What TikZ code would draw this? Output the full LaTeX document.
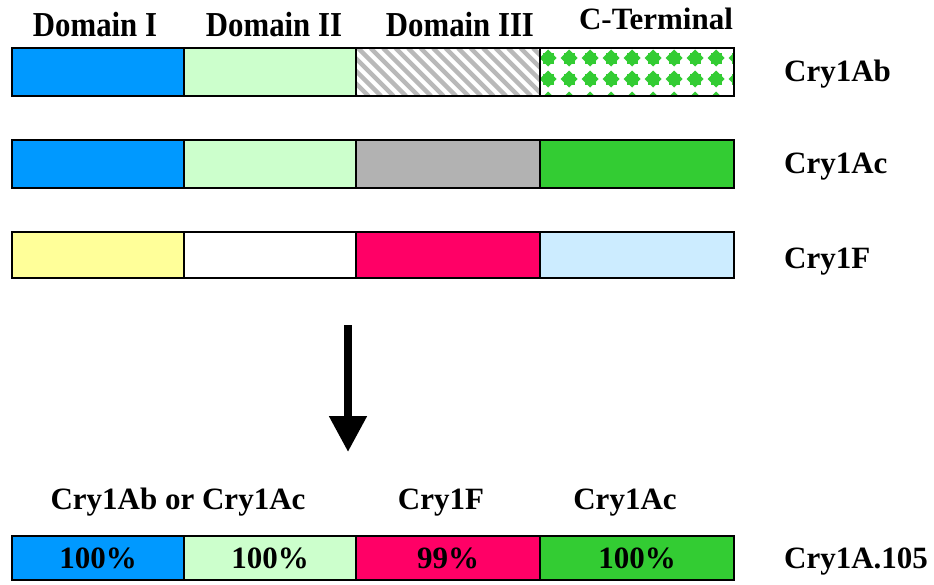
\documentclass[tikz,border=0pt]{standalone}
\usepackage{fontspec}
\setmainfont{Liberation Serif}
\newfontfamily\condfont{Liberation Serif}[FakeStretch=0.88]
\usetikzlibrary{arrows.meta}
\definecolor{cblue}{RGB}{0,153,255}
\definecolor{cltgreen}{RGB}{204,255,204}
\definecolor{cgray}{RGB}{178,178,178}
\definecolor{cgreen}{RGB}{51,204,51}
\definecolor{cyellow}{RGB}{255,255,153}
\definecolor{cmag}{RGB}{255,0,102}
\definecolor{cltblue}{RGB}{204,236,255}
\definecolor{chatch}{RGB}{185,185,185}
\begin{document}
\begin{tikzpicture}[x=1pt,y=-1pt,
  seg/.style={draw=black, line width=1.4pt, inner sep=0pt, outer sep=0pt, anchor=north west, minimum height=48pt},
  segA/.style={seg, minimum width=172pt},
  segB/.style={seg, minimum width=172pt},
  segC/.style={seg, minimum width=184pt},
  segD/.style={seg, minimum width=194pt},
  lbl/.style={font=\bfseries\fontsize{31}{36}\selectfont, inner sep=0pt, anchor=base},
  hlbl/.style={font=\condfont\bfseries\fontsize{35}{40}\selectfont, inner sep=0pt, anchor=base},
  rlbl/.style={lbl, anchor=base west}
]
\useasboundingbox (0,0) rectangle (934,584);
\fill[white] (0,0) rectangle (934,584);

% top labels
\node[hlbl] (hd1) at (95,36) {Domain I};
\node[hlbl] (hd2) at (274,36) {Domain II};
\node[hlbl] (hd3) at (460,36) {Domain III};
\node[lbl] (hd4) at (656,29) {C-Terminal};

% row 1 Cry1Ab
\node[segA, fill=cblue] (r1a) at (12,48) {};
\node[segB, fill=cltgreen] (r1b) at (184,48) {};
\begin{scope}
  \clip (356,48) rectangle (540,96);
  \fill[white] (356,48) rectangle (540,96);
  \foreach \i in {0,...,22} {
    \draw[chatch, line width=4.5pt] (308+\i*12.5,48) -- ++(48,48);
  }
\end{scope}
\node[segC] (r1c) at (356,48) {};
\begin{scope}
  \clip (540,48) rectangle (734,96);
  \fill[white] (540,48) rectangle (734,96);
  \foreach \cx in {0,...,9} {
    \foreach \cy in {0,...,2} {
      \fill[cgreen] (548+\cx*21,58+\cy*21) ++(-8.5,0) -- ++(8.5,-8.5) -- ++(8.5,8.5) -- ++(-8.5,8.5) -- cycle;
      \fill[cgreen] (548+\cx*21-5.5,58+\cy*21-5.5) rectangle ++(11,11);
    }
  }
\end{scope}
\node[segD] (r1d) at (540,48) {};
\node[rlbl] (n1) at (784,81) {Cry1Ab};

% row 2 Cry1Ac
\node[segA, fill=cblue] (r2a) at (12,140) {};
\node[segB, fill=cltgreen] (r2b) at (184,140) {};
\node[segC, fill=cgray] (r2c) at (356,140) {};
\node[segD, fill=cgreen] (r2d) at (540,140) {};
\node[rlbl] (n2) at (784,173) {Cry1Ac};

% row 3 Cry1F
\node[segA, fill=cyellow, minimum height=46pt] (r3a) at (12,232) {};
\node[segB, fill=white, minimum height=46pt] (r3b) at (184,232) {};
\node[segC, fill=cmag, minimum height=46pt] (r3c) at (356,232) {};
\node[segD, fill=cltblue, minimum height=46pt] (r3d) at (540,232) {};
\node[rlbl] (n3) at (784,268) {Cry1F};

% arrow
\coordinate (as) at (348,325);
\coordinate (ae) at (348,452);
\draw[line width=8pt, -{Triangle[length=36pt,width=36pt]}] (as) -- (ae);

% bottom labels
\node[lbl] (b1) at (178,509) {Cry1Ab or Cry1Ac};
\node[lbl] (b2) at (441,509) {Cry1F};
\node[lbl] (b3) at (625,509) {Cry1Ac};

% bottom bar
\node[segA, fill=cblue, minimum height=44pt] (r4a) at (12,536) {};
\node[segB, fill=cltgreen, minimum height=44pt] (r4b) at (184,536) {};
\node[segC, fill=cmag, minimum height=44pt] (r4c) at (356,536) {};
\node[segD, fill=cgreen, minimum height=44pt] (r4d) at (540,536) {};
\node[lbl] (p1) at (r4a.center |- 0,568) {100\%};
\node[lbl] (p2) at (r4b.center |- 0,568) {100\%};
\node[lbl] (p3) at (r4c.center |- 0,568) {99\%};
\node[lbl] (p4) at (r4d.center |- 0,568) {100\%};
\node[rlbl] (n4) at (784,568) {Cry1A.105};
\end{tikzpicture}
\end{document}
